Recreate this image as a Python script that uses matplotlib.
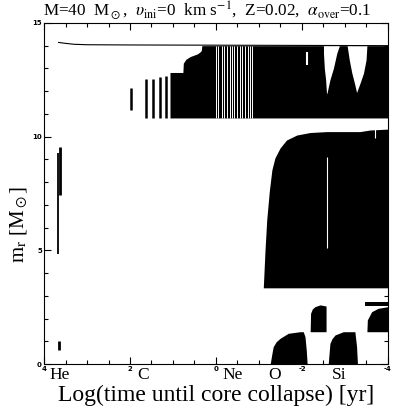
import numpy as np
import matplotlib
matplotlib.use("Agg")
import matplotlib.pyplot as plt
from matplotlib.ticker import MultipleLocator, FuncFormatter

plt.rcParams['font.family'] = ['Liberation Serif', 'DejaVu Serif']
plt.rcParams['mathtext.fontset'] = 'stix'

# =========================
# DATA (log time until collapse, mass coordinate)
# =========================
# total mass
surf_t = [3.66, 3.5, 3.3, 3.0, 2.0, 0.0, -4.0]
surf_m = [14.14, 14.10, 14.06, 14.04, 14.03, 14.02, 14.0]

# early intermittent zones (t, bottom, top)
he_t = [3.68, 3.63, 3.66]
he_bot = [4.83, 7.43, 0.62]
he_top = [9.27, 9.56, 1.01]

c_t = [1.98, 1.63, 1.46, 1.30, 1.16]
c_bot = [11.17, 10.84, 10.84, 10.84, 10.84]
c_top = [12.13, 12.52, 12.55, 12.61, 12.68]

# upper convective zone
env_t = [1.07, 0.77, 0.76, 0.70, 0.60, 0.43, 0.36, 0.34, 0.33, -4.0]
env_top = [12.82, 12.82, 13.23, 13.40, 13.52, 13.64, 13.74, 13.80, 14.0, 14.0]
env_bot = 10.82
env_gaps = [0.01, -0.04, -0.13, -0.19, -0.26, -0.32, -0.38, -0.43, -0.49,
            -0.56, -0.61, -0.67, -0.74, -0.79, -0.84]

# radiative wedges inside the upper zone (m, left t, right t)
w1_m = [14.0, 13.67, 13.0, 12.5, 11.9]
w1_l = [-2.50, -2.50, -2.52, -2.55, -2.57]
w1_r = [-2.87, -2.81, -2.73, -2.65, -2.58]
w2_m = [14.0, 13.37, 12.79, 12.35, 11.94]
w2_l = [-3.05, -3.10, -3.16, -3.22, -3.27]
w2_r = [-3.51, -3.49, -3.43, -3.35, -3.27]
sliver_t, sliver_bot, sliver_top = -2.12, 13.15, 13.70

# middle convective zone
mid_t = [-1.10, -1.14, -1.18, -1.24, -1.30, -1.37, -1.49, -1.64, -1.88,
         -2.19, -2.57, -3.35, -3.58, -4.0]
mid_top = [3.35, 5.0, 6.34, 7.6, 8.54, 9.06, 9.50, 9.85, 10.07,
           10.18, 10.22, 10.22, 10.29, 10.33]
mid_bot = 3.35
mid_gap_t, mid_gap_bot, mid_gap_top = [-2.58, -3.70], [5.1, 9.95], [9.1, 10.35]

# core O burning + shell
o_t = [-1.26, -1.30, -1.33, -1.40, -1.49, -1.68, -1.95, -2.03, -2.07, -2.10, -2.12]
o_top = [0.0, 0.45, 0.76, 0.98, 1.13, 1.35, 1.42, 1.42, 1.20, 0.60, 0.0]
osh_t = [-2.19, -2.20, -2.24, -2.30, -2.42, -2.56, -2.56]
osh_top = [1.42, 2.23, 2.42, 2.52, 2.60, 2.55, 1.42]
osh_bot = 1.42

# core Si burning + shells
si_t = [-2.61, -2.65, -2.70, -2.77, -2.96, -3.23, -3.27, -3.29]
si_top = [0.0, 0.91, 1.12, 1.28, 1.42, 1.42, 0.76, 0.0]
sish_t = [-3.51, -3.52, -3.62, -3.77, -4.0]
sish_top = [1.42, 1.94, 2.30, 2.45, 2.52]
sish_bot = 1.42
sistrip_t = [-3.47, -4.0]
sistrip_bot, sistrip_top = 2.55, 2.74

# labels
burn_names = ["He", "C", "Ne", "O", "Si"]
burn_t = [3.63, 1.70, -0.38, -1.37, -2.87]

# =========================
# PLOT
# =========================
fig = plt.figure(figsize=(4.09, 4.09), dpi=100)
ax = fig.add_axes([0.1076, 0.110, 0.841, 0.834])

ax.plot(surf_t, surf_m, color="black", lw=0.8)
ax.vlines(he_t[0], he_bot[0], he_top[0], color="black", lw=1.3)
ax.vlines(he_t[1:], he_bot[1:], he_top[1:], color="black", lw=2.0)
ax.vlines(c_t, c_bot, c_top, color="black", lw=1.8)

ax.fill_between(env_t, env_bot, env_top, color="black", lw=0)
ax.vlines(env_gaps, env_bot, 14.0, color="white", lw=0.7)
ax.fill_betweenx(w1_m, w1_l, w1_r, color="white", lw=0)
ax.fill_betweenx(w2_m, w2_l, w2_r, color="white", lw=0)
ax.vlines(sliver_t, sliver_bot, sliver_top, color="white", lw=1.5)

ax.fill_between(mid_t, mid_bot, mid_top, color="black", lw=0)
ax.vlines(mid_gap_t, mid_gap_bot, mid_gap_top, color="white", lw=0.8)

ax.fill_between(o_t, 0, o_top, color="black", lw=0)
ax.fill_between(osh_t, osh_bot, osh_top, color="black", lw=0)
ax.fill_between(si_t, 0, si_top, color="black", lw=0)
ax.fill_between(sish_t, sish_bot, sish_top, color="black", lw=0)
ax.fill_between(sistrip_t, sistrip_bot, sistrip_top, color="black", lw=0)

ax.set_xlim(4, -4)
ax.set_ylim(0, 15)

ax.xaxis.set_major_locator(MultipleLocator(2))
ax.xaxis.set_minor_locator(MultipleLocator(0.5))
ax.yaxis.set_major_locator(MultipleLocator(5))
ax.yaxis.set_minor_locator(MultipleLocator(1))
ax.xaxis.set_major_formatter(FuncFormatter(lambda v, p: "%d" % v))
ax.tick_params(which="both", direction="in", top=True, right=True, width=0.8,
               labelsize=5)
ax.tick_params(which="major", length=5, pad=1.5)
ax.tick_params(which="minor", length=3)
for lab in ax.get_xticklabels() + ax.get_yticklabels():
    lab.set_fontweight("bold")
    lab.set_family("DejaVu Sans")

for name, t in zip(burn_names, burn_t):
    ax.text(t, -0.033, name, transform=ax.get_xaxis_transform(),
            ha="center", va="center", fontsize=12.5)

ax.set_xlabel("Log(time until core collapse) [yr]", fontsize=17, labelpad=9)
ax.set_ylabel(r"m$_{\rm r}$ [M$_\odot$]", fontsize=15)
ax.yaxis.set_label_coords(-0.04, 0.41)
ax.set_title(r"M=40  M$_\odot$,  $\upsilon_{\rm ini}$=0  km s$^{-1}$,  Z=0.02,  "
             r"$\alpha_{\rm over}$=0.1", fontsize=12.3, pad=5, x=0.475)

fig.savefig("out.png", dpi=100)
